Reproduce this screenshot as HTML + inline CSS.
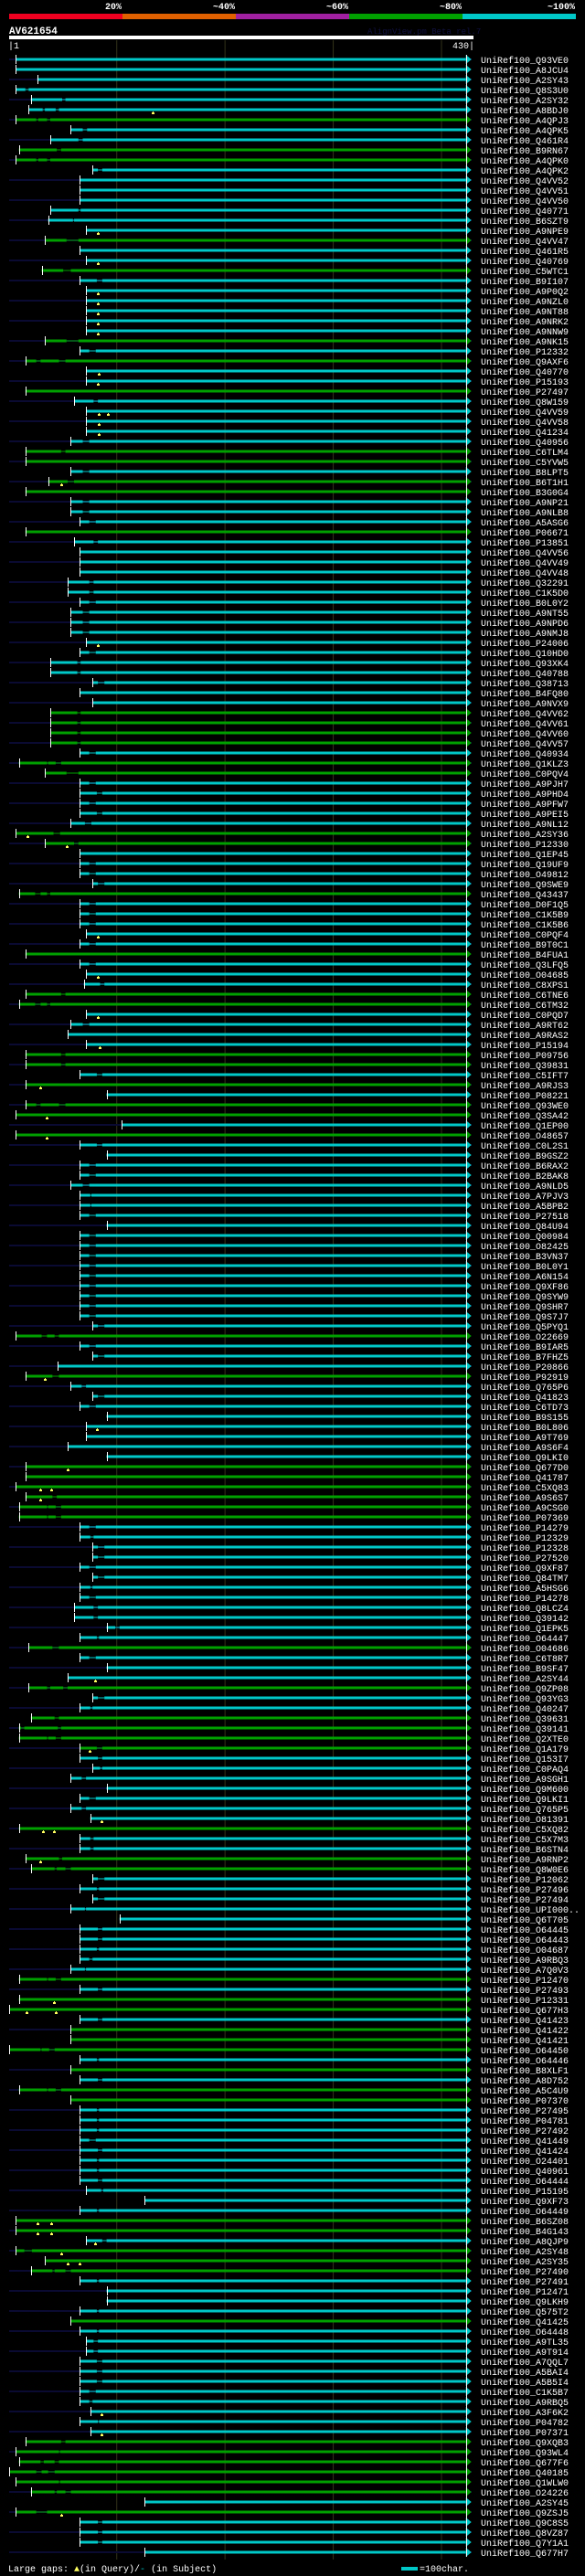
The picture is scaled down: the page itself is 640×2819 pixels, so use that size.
<!DOCTYPE html>
<html><head><meta charset="utf-8">
<style>
html,body{margin:0;padding:0;background:#000;}
svg{display:block;}
text{font-family:"Liberation Mono","DejaVu Sans Mono",monospace;}
</style></head>
<body>
<svg id="chart" xmlns="http://www.w3.org/2000/svg" width="640" height="2819" viewBox="0 0 640 2819">
<rect x="0" y="0" width="640" height="2819" fill="#000"/>
<g>
<text x="133" y="10" fill="#fff" font-size="10" font-weight="bold" text-anchor="end">20%</text>
<text x="257" y="10" fill="#fff" font-size="10" font-weight="bold" text-anchor="end">~40%</text>
<text x="381" y="10" fill="#fff" font-size="10" font-weight="bold" text-anchor="end">~60%</text>
<text x="505" y="10" fill="#fff" font-size="10" font-weight="bold" text-anchor="end">~80%</text>
<text x="629" y="10" fill="#fff" font-size="10" font-weight="bold" text-anchor="end">~100%</text>
<rect x="10" y="15" width="124" height="6" fill="#f00020"/>
<rect x="134" y="15" width="124" height="6" fill="#e06000"/>
<rect x="258" y="15" width="124" height="6" fill="#a020a0"/>
<rect x="382" y="15" width="124" height="6" fill="#00a000"/>
<rect x="506" y="15" width="124" height="6" fill="#00c8c8"/>
</g>
<text x="10" y="37" fill="#fff" font-size="11" font-weight="bold">AV621654</text>
<text x="402" y="37" fill="#101040" font-size="9">AlignView.pm Beta rel.7</text>
<rect x="10" y="39" width="508" height="4" fill="#fff"/>
<text x="9" y="53" fill="#fff" font-size="10">|1</text>
<text x="519" y="53" fill="#fff" font-size="10" text-anchor="end">430|</text>
<g id="grid"></g>
<g id="rows"></g>
<g>
<text x="9" y="2814" fill="#fff" font-size="10">Large gaps: <tspan fill="#ffff60">▲</tspan>(in Query)/<tspan fill="#00c8c8">-</tspan> (in Subject)</text>
<rect x="439" y="2809" width="18" height="4" fill="#00c8c8"/>
<text x="459" y="2814" fill="#fff" font-size="10">=100char.</text>
</g>
</svg>
<script>
const queryLength = 430;
const gridTicks = [100, 200, 300, 400];
const names = ["Q93VE0","A8JCU4","A2SY43","Q8S3U0","A2SY32","A8BDJ0","A4QPJ3","A4QPK5","Q461R4","B9RN67",
"A4QPK0","A4QPK2","Q4VV52","Q4VV51","Q4VV50","Q40771","B6SZT9","A9NPE9","Q4VV47","Q461R5",
"Q40769","C5WTC1","B9I107","A9P0Q2","A9NZL0","A9NT88","A9NRK2","A9NNW9","A9NK15","P12332",
"Q9AXF6","Q40770","P15193","P27497","Q8W159","Q4VV59","Q4VV58","Q41234","Q40956","C6TLM4",
"C5YVW5","B8LPT5","B6T1H1","B3G0G4","A9NP21","A9NLB8","A5ASG6","P06671","P13851","Q4VV56",
"Q4VV49","Q4VV48","Q32291","C1K5D0","B0L0Y2","A9NT55","A9NPD6","A9NMJ8","P24006","Q10HD0",
"Q93XK4","Q40788","Q38713","B4FQ80","A9NVX9","Q4VV62","Q4VV61","Q4VV60","Q4VV57","Q40934",
"Q1KLZ3","C0PQV4","A9PJH7","A9PHD4","A9PFW7","A9PEI5","A9NL12","A2SY36","P12330","Q1EP45",
"Q19UF9","O49812","Q9SWE9","Q43437","D0F1Q5","C1K5B9","C1K5B6","C0PQF4","B9T0C1","B4FUA1",
"Q3LFQ5","O04685","C8XPS1","C6TNE6","C6TM32","C0PQD7","A9RT62","A9RAS2","P15194","P09756",
"Q39831","C5IFT7","A9RJS3","P08221","Q93WE0","Q3SA42","Q1EP00","O48657","C0L2S1","B9GSZ2",
"B6RAX2","B2BAK8","A9NLD5","A7PJV3","A5BPB2","P27518","Q84U94","Q00984","O82425","B3VN37",
"B0L0Y1","A6N154","Q9XF86","Q9SYW9","Q9SHR7","Q9S7J7","Q5PYQ1","O22669","B9IAR5","B7FHZ5",
"P20866","P92919","Q765P6","Q41823","C6TD73","B9S155","B0L806","A9T769","A9S6F4","Q9LKI0",
"Q677D0","Q41787","C5XQ83","A9S6S7","A9CSG0","P07369","P14279","P12329","P12328","P27520",
"Q9XF87","Q84TM7","A5HSG6","P14278","Q8LCZ4","Q39142","Q1EPK5","O64447","O04686","C6T8R7",
"B9SF47","A2SY44","Q9ZP08","Q93YG3","Q40247","Q39631","Q39141","Q2XTE0","Q1A179","Q153I7",
"C0PAQ4","A9SGH1","Q9M600","Q9LKI1","Q765P5","O81391","C5XQ82","C5X7M3","B6STN4","A9RNP2",
"Q8W0E6","P12062","P27496","P27494","UPI000..","Q6T705","O64445","O64443","O04687","A9RBQ3",
"A7Q0V3","P12470","P27493","P12331","Q677H3","Q41423","Q41422","Q41421","O64450","O64446",
"B8XLF1","A8D752","A5C4U9","P07370","P27495","P04781","P27492","Q41449","Q41424","O24401",
"Q40961","O64444","P15195","Q9XF73","O64449","B6SZ08","B4G143","A8QJP9","A2SY48","A2SY35",
"P27490","P27491","P12471","Q9LKH9","Q575T2","Q41425","O64448","A9TL35","A9T914","A7QQL7",
"A5BAI4","A5B5I4","C1K5B7","A9RBQ5","A3F6K2","P04782","P07371","Q9XQB3","Q93WL4","Q677F6",
"Q40185","Q1WLW0","O24226","A2SY45","Q9ZSJ5","Q9C8S5","Q8VZ87","Q7Y1A1","Q677H7"];
const starts = [7,7,27,7,21,19,7,58,39,10,
7,78,66,66,66,39,37,72,34,66,
72,31,66,72,72,72,72,72,34,66,
16,72,72,16,61,72,72,72,58,16,
16,58,37,16,58,58,66,16,61,66,
66,66,55,55,66,58,58,58,72,66,
39,39,78,66,78,39,39,39,39,66,
10,34,66,66,66,66,58,7,34,66,
66,66,78,10,66,66,66,72,66,16,
66,72,70,16,10,72,58,55,72,16,
16,66,16,91,16,7,105,7,66,91,
66,66,58,66,66,66,91,66,66,66,
66,66,66,66,66,66,78,7,66,78,
46,16,58,78,66,91,72,72,55,91,
16,16,7,16,10,10,66,66,78,78,
66,78,66,66,61,61,91,66,19,66,
91,55,19,78,66,21,10,10,66,66,
78,58,91,66,58,76,10,66,66,16,
21,78,66,78,58,103,66,66,66,66,
58,10,66,10,1,66,58,58,1,66,
58,66,10,58,66,66,66,66,66,66,
66,66,72,126,66,7,7,72,7,34,
21,66,91,91,66,58,66,72,72,66,
66,66,66,66,76,66,76,16,7,10,
1,7,21,126,7,66,66,66,126];
const kinds = "ccccccgccg" + "gcccccccgc" + "cgccccccgc" + "gccgcccccg" + "gcggcccgcc" +
"cccccccccc" + "cccccggggc" + "ggcccccggc" + "cccgcccccg" + "cccggccccg" +
"gcgcggcgcc" + "cccccccccc" + "cccccccgcc" + "cgcccccccc" + "ggggggcccc" +
"ccccccccgc" + "ccgccggggc" + "ccccccgccg" + "gccccccccc" + "cgcggcgggc" +
"gcggcccccc" + "cccccggcgg" + "gccccgcccc" + "cccccccggg" + "gggcgcccc";
const hitEnd = 423;
const gaps = [[],[],[],[[16,19]],[[50,53]],[[32,34],[44,47]],[[26,28],[36,39]],[[69,73]],[[65,69]],[[45,49]],
[[26,28],[36,39]],[[83,87]],[],[],[],[[65,67]],[[60,61]],[],[[54,65]],[],
[],[[51,58]],[[82,87]],[],[],[],[],[],[[54,65]],[[75,81]],
[[26,30],[47,53]],[],[],[],[[79,83]],[],[],[],[[69,75]],[[49,53]],
[],[[69,75]],[[55,61]],[],[[69,75]],[[69,75]],[[75,81]],[],[[79,83]],[],
[],[],[[75,79]],[[75,79]],[[75,81]],[[69,75]],[[69,75]],[[69,75]],[],[[75,81]],
[[64,67]],[[64,67]],[[83,89]],[],[],[[64,67]],[[64,67]],[[64,67]],[[64,67]],[[75,81]],
[[36,37],[44,49]],[[54,65]],[[75,81]],[[82,87]],[[75,81]],[[82,87]],[[71,77]],[[42,48]],[[61,65]],[],
[[75,81]],[[75,81]],[[83,89]],[[25,30],[36,39]],[[75,81]],[[75,81]],[[75,81]],[],[[75,81]],[],
[[75,81]],[],[[85,89]],[[49,53]],[[25,30],[36,39]],[],[[69,75]],[],[],[[49,53]],
[[49,53]],[[82,87]],[],[],[[26,30],[47,53]],[],[],[],[[82,87]],[],
[[75,81]],[[75,81]],[[69,75]],[[76,77]],[[76,77]],[[75,81]],[],[[75,81]],[[75,81]],[[75,81]],
[[75,81]],[[75,81]],[[75,81]],[[75,81]],[[75,81]],[[75,81]],[[83,89]],[[31,36],[43,47]],[[75,81]],[[83,89]],
[],[[41,47]],[[68,72]],[[83,89]],[[75,81]],[],[],[],[],[],
[],[],[],[[41,45]],[[36,37],[44,49]],[[36,37],[44,49]],[[75,81]],[[76,79]],[[83,89]],[[83,89]],
[[75,81]],[[83,89]],[[76,78]],[[75,81]],[[79,83]],[[79,83]],[[99,103]],[[82,84]],[[41,47]],[[75,81]],
[],[],[[36,39],[51,55]],[[83,89]],[[76,78]],[[43,47]],[[12,15],[46,49]],[[36,37],[44,49]],[[82,87]],[[83,87]],
[[85,87]],[[68,72]],[],[[75,81]],[[68,72]],[],[],[[76,79]],[[76,79]],[[47,50]],
[[43,45],[53,58]],[[83,89]],[[82,84]],[[83,89]],[[71,72]],[],[[83,87]],[[83,87]],[[82,84]],[[75,78]],
[[71,72]],[[36,37],[44,49]],[[83,87]],[],[],[[83,87]],[],[],[[30,31],[38,43]],[[82,84]],
[],[[83,87]],[[36,37],[44,49]],[],[[82,84]],[[82,84]],[[82,84]],[[75,81]],[[83,87]],[[82,84]],
[[82,84]],[[83,87]],[[86,88]],[],[[82,84]],[],[],[[87,91]],[[15,22]],[],
[[41,43],[53,58]],[[82,84]],[],[],[[82,84]],[],[[82,84]],[[79,83]],[[79,83]],[[82,87]],
[[82,87]],[[82,87]],[[75,81]],[[75,78]],[],[[83,84]],[],[[49,53]],[[47,48]],[[30,33],[43,47]],
[[26,31],[37,43]],[[47,48]],[[43,45],[53,58]],[],[[26,36]],[[83,87]],[[83,87]],[[83,87]],[]];
const inserts = [[],[],[],[],[],[134],[],[],[],[],
[],[],[],[],[],[],[],[83],[],[],
[83],[],[],[83],[83],[83],[83],[83],[],[],
[],[84],[83],[],[],[84,92],[84],[84],[],[],
[],[],[49],[],[],[],[],[],[],[],
[],[],[],[],[],[],[],[],[83],[],
[],[],[],[],[],[],[],[],[],[],
[],[],[],[],[],[],[],[18],[54],[],
[],[],[],[],[],[],[],[83],[],[],
[],[83],[],[],[],[83],[],[],[85],[],
[],[],[30],[],[],[36],[],[36],[],[],
[],[],[],[],[],[],[],[],[],[],
[],[],[],[],[],[],[],[],[],[],
[],[34],[],[],[],[],[82],[],[],[],
[55],[],[30,40],[30],[],[],[],[],[],[],
[],[],[],[],[],[],[],[],[],[],
[],[80],[],[],[],[],[],[],[75],[],
[],[],[],[],[],[86],[32,42],[],[],[30],
[],[],[],[],[],[],[],[],[],[],
[],[],[],[42],[17,44],[],[],[],[],[],
[],[],[],[],[],[],[],[],[],[],
[],[],[],[],[],[27,40],[27,40],[80],[49],[55,66],
[],[],[],[],[],[],[],[],[],[],
[],[],[],[],[86],[],[86],[],[],[],
[],[],[],[],[49],[],[],[],[]];

const NS = "http://www.w3.org/2000/svg";
const X0 = 10, X1 = 518, ROW0 = 65, PITCH = 11;
function xScale(r){ return X0 + (r - 1) * (X1 - X0) / (queryLength - 1); }
function yRow(i){ return ROW0 + i * PITCH; }
function mk(tag, attrs, parent){
  const el = document.createElementNS(NS, tag);
  for (const k in attrs) el.setAttribute(k, attrs[k]);
  parent.appendChild(el);
  return el;
}
const COLORS = {c:"#00c8c8", g:"#00a000"};
const grid = document.getElementById("grid");
const rowsG = document.getElementById("rows");
const lastY = yRow(names.length - 1);
gridTicks.forEach(function(t){
  const l = mk("line", {x1: xScale(t)+0.5, x2: xScale(t)+0.5, y1: 44, y2: lastY + 8, stroke: "#33331a", "stroke-width": 1}, grid);
  
  
});
names.forEach(function(nm, i){
  const y = yRow(i);
  const col = COLORS[kinds[i]] || COLORS.c;
  const g = mk("g", {}, rowsG);
  
  
  if (i % 2 === 0) {
    const bg = mk("rect", {x: X0, y: y - 1, width: 516 - X0, height: 2, fill: "#0a0a32"}, g);
    
    
  }
  const s = starts[i], e = hitEnd;
  let segs = [], cur = s;
  (gaps[i] || []).forEach(function(gp){
    segs.push([cur, gp[0], true]);
    segs.push([gp[0], gp[1], false]);
    cur = gp[1];
  });
  segs.push([cur, e, true]);
  segs.forEach(function(sg){
    const xa = xScale(sg[0]), xb = xScale(sg[1]);
    if (xb <= xa) return;
    const r = sg[2] ? mk("rect", {x: xa, y: y - 1.5, width: xb - xa, height: 3, fill: col}, g)
                    : mk("rect", {x: xa, y: y - 0.5, width: xb - xa, height: 1, fill: col}, g);
    
    
  });
  const xe = xScale(e);
  const ar = mk("polygon", {points: xe + "," + (y - 5) + " " + (xe + 6) + "," + y + " " + xe + "," + (y + 5), fill: col}, g);
  
  
  const xs = Math.round(xScale(s));
  const tk = mk("rect", {x: xs, y: y - 5, width: 1, height: 10, fill: "#fff"}, g);
  
  
  (inserts[i] || []).forEach(function(p){
    const xp = Math.round(xScale(p));
    const st = mk("rect", {x: xp, y: y + 2, width: 1, height: 2, fill: "#ffff60"}, g);
    
    
    const bx = mk("rect", {x: xp - 1, y: y + 3, width: 3, height: 2, fill: "#ffff60"}, g);
    
    
  });
  const tx = mk("text", {x: 526, y: y + 4, fill: "#fff", "font-size": 10}, g);
  tx.textContent = "UniRef100_" + nm;
  
  
});
const endLine = mk("rect", {x: Math.round(xScale(hitEnd)), y: ROW0 - 5, width: 1, height: lastY - ROW0 + 10, fill: "#fff"}, rowsG);


</script>
</body></html>
